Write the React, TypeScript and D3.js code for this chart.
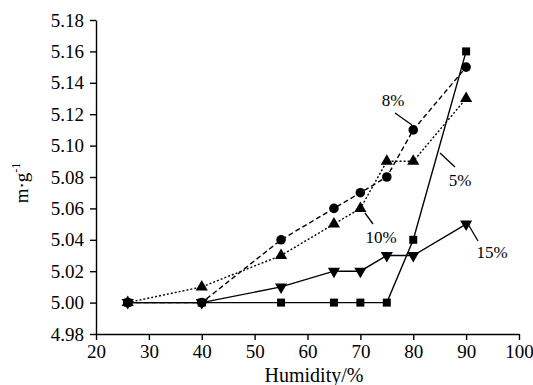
import { useRef, useEffect } from "react";
import * as d3 from "d3";

const humidity = [26, 40, 55, 65, 70, 75, 80, 90];
const s5 = [5.0, 5.0, 5.0, 5.0, 5.0, 5.0, 5.04, 5.16];
const s8 = [5.0, 5.0, 5.04, 5.06, 5.07, 5.08, 5.11, 5.15];
const s10 = [5.0, 5.01, 5.03, 5.05, 5.06, 5.09, 5.09, 5.13];
const s15 = [5.0, 5.0, 5.01, 5.02, 5.02, 5.03, 5.03, 5.05];
const xTicks = [20, 30, 40, 50, 60, 70, 80, 90, 100];
const yTicks = [4.98, 5.0, 5.02, 5.04, 5.06, 5.08, 5.1, 5.12, 5.14, 5.16, 5.18];

const W = 533;
const H = 385;
const font = "Liberation Serif, Times New Roman, Times, serif";

const App = () => {
  const svgRef = useRef<SVGSVGElement>(null);

  useEffect(() => {
    if (!svgRef.current) return;
    const svg = d3.select(svgRef.current);
    svg.selectAll("*").remove();

    const x = d3.scaleLinear().domain([20, 100]).range([96, 519]);
    const y = d3.scaleLinear().domain([4.98, 5.18]).range([334, 20]);

    // axes
    const xAxis = svg
      .append("g")
      .attr("transform", `translate(0,${334})`)
      .call(d3.axisBottom(x).tickValues(xTicks).tickSize(6).tickSizeOuter(0).tickFormat(d3.format("d")));
    const yAxis = svg
      .append("g")
      .attr("transform", `translate(96,0)`)
      .call(d3.axisLeft(y).tickValues(yTicks).tickSize(6).tickSizeOuter(0).tickFormat(d3.format(".2f")));
    [xAxis, yAxis].forEach((g) => {
      g.attr("font-family", font).attr("font-size", 19);
      g.selectAll("path, line").attr("stroke", "#000").attr("stroke-width", 1.4);
      g.selectAll("text").attr("fill", "#000");
    });
    xAxis.selectAll("text").attr("y", 8).attr("dy", "0.85em");
    yAxis.selectAll("text").attr("x", -12);

    // lines
    const series = [
      { vals: s5, dash: null, shape: d3.symbolSquare, size: 64 },
      { vals: s8, dash: "5,3", shape: d3.symbolCircle, size: 72 },
      { vals: s10, dash: "2,2", shape: d3.symbolTriangle, size: 64 },
      { vals: s15, dash: null, shape: d3.symbolTriangle, size: 64, flip: true },
    ];
    series.forEach((s) => {
      const pts = humidity.map((h, i) => [x(h), y(s.vals[i])] as [number, number]);
      svg
        .append("path")
        .attr("d", d3.line()(pts))
        .attr("fill", "none")
        .attr("stroke", "#000")
        .attr("stroke-width", 1.4)
        .attr("stroke-dasharray", s.dash);
      svg
        .selectAll(null)
        .data(pts)
        .enter()
        .append("path")
        .attr("d", d3.symbol().type(s.shape).size(s.size)())
        .attr("transform", (d) => `translate(${d[0]},${d[1]})${s.flip ? " rotate(180)" : ""}`)
        .attr("fill", "#000");
    });

    // annotations
    const notes = [
      { text: "8%", tx: 393, ty: 106, l: [395, 113, 412, 125] },
      { text: "5%", tx: 460, ty: 186, l: [440, 153, 455, 167] },
      { text: "10%", tx: 381, ty: 243, l: [365, 213, 373, 224] },
      { text: "15%", tx: 492, ty: 258, l: [468, 224, 478, 241] },
    ];
    notes.forEach((n) => {
      svg
        .append("line")
        .attr("x1", n.l[0])
        .attr("y1", n.l[1])
        .attr("x2", n.l[2])
        .attr("y2", n.l[3])
        .attr("stroke", "#000")
        .attr("stroke-width", 1.3);
      svg
        .append("text")
        .attr("x", n.tx)
        .attr("y", n.ty)
        .attr("text-anchor", "middle")
        .attr("font-family", font)
        .attr("font-size", 17)
        .text(n.text);
    });

    // axis titles
    svg
      .append("text")
      .attr("x", 314)
      .attr("y", 382)
      .attr("text-anchor", "middle")
      .attr("font-family", font)
      .attr("font-size", 20)
      .text("Humidity/%");
    const yl = svg
      .append("text")
      .attr("transform", "translate(28,183) rotate(-90)")
      .attr("text-anchor", "middle")
      .attr("font-family", font)
      .attr("font-size", 19);
    yl.append("tspan").text("m·g");
    yl.append("tspan").attr("dy", -8).attr("font-size", 12).text("-1");
  }, []);

  return (
    <div style={{ position: "absolute", left: 0, top: 0, width: W, height: H, background: "#fff" }}>
      <svg ref={svgRef} width={W} height={H}></svg>
    </div>
  );
};

export default App;
